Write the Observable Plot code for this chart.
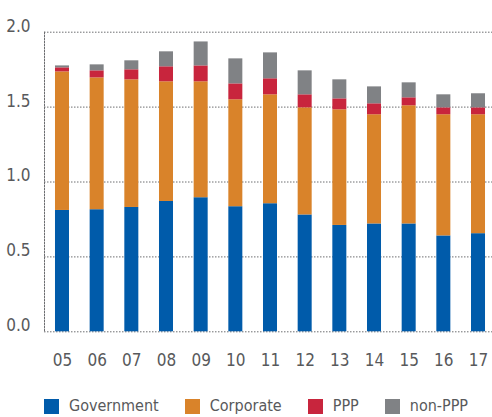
<!DOCTYPE html>
<html>
<head>
<meta charset="utf-8">
<script src="https://cdn.jsdelivr.net/npm/d3@7"></script>
<script src="https://cdn.jsdelivr.net/npm/@observablehq/plot@0.6"></script>
<style>
  body { margin: 0; background: #fff; }
  #wrap { width: 492px; font-family: "DejaVu Sans"; font-stretch: condensed; color: #58595b; }
  #wrap svg text { font-stretch: condensed; }
  #legend { display: flex; align-items: center; padding-left: 44px; padding-top: 12px; font-size: 16px; line-height: 18px; white-space: nowrap; }
  .item { display: flex; align-items: center; margin-right: 26px; }
  .sw { width: 15px; height: 15px; margin-right: 10px; flex: none; }
</style>
</head>
<body>
<div id="wrap"></div>
<script>
const years = ["05","06","07","08","09","10","11","12","13","14","15","16","17"];
const government = [0.81, 0.815, 0.83, 0.87, 0.895, 0.835, 0.855, 0.78, 0.71, 0.72, 0.72, 0.64, 0.655];
const corporate  = [0.925, 0.88, 0.852, 0.799, 0.774, 0.714, 0.727, 0.715, 0.772, 0.729, 0.789, 0.809, 0.794];
const ppp        = [0.027, 0.047, 0.067, 0.10, 0.106, 0.106, 0.107, 0.087, 0.073, 0.073, 0.053, 0.046, 0.046];
const nonPPP     = [0.013, 0.04, 0.06, 0.10, 0.16, 0.167, 0.173, 0.16, 0.127, 0.113, 0.10, 0.087, 0.094];
const series = ["Government", "Corporate", "PPP", "non-PPP"];
const colors = ["#005baa", "#d9832a", "#c8253d", "#808285"];
const yTicks = [0, 0.5, 1.0, 1.5, 2.0];

const seriesValues = [government, corporate, ppp, nonPPP];
const data = [];
series.forEach((s, i) => years.forEach((yr, j) => data.push({year: yr, series: s, value: seriesValues[i][j]})));

const chart = Plot.plot({
  width: 492,
  height: 385,
  marginLeft: 44,
  marginRight: 0,
  marginTop: 31.7,
  marginBottom: 53.7,
  style: {fontFamily: '"DejaVu Sans"', fontSize: "17px", color: "#58595b", background: "#fff"},
  x: {domain: years, range: [44, 496], paddingInner: 0.596, paddingOuter: 0.317, round: false, label: null},
  y: {domain: [0, 2], label: null},
  color: {domain: series, range: colors},
  marks: [
    Plot.ruleY(yTicks, {stroke: "#6d6e71", strokeDasharray: "1.5,1.5", strokeWidth: 1}),
    Plot.frame({anchor: "left", stroke: "#6d6e71", strokeDasharray: "1.5,1.5"}),
    Plot.barY(data, {x: "year", y: "value", fill: "series"}),
    Plot.axisY(yTicks, {tickSize: 0, tickPadding: 14, tickFormat: d3.format(".1f"), dy: -6, label: null}),
    Plot.axisX({tickSize: 0, tickPadding: 22, label: null})
  ]
});

const wrap = document.getElementById("wrap");
wrap.appendChild(chart);
const legend = document.createElement("div");
legend.id = "legend";
series.forEach((s, i) => {
  const it = document.createElement("div");
  it.className = "item";
  const sw = document.createElement("span");
  sw.className = "sw";
  sw.style.background = colors[i];
  const lab = document.createElement("span");
  lab.textContent = s;
  it.appendChild(sw); it.appendChild(lab);
  legend.appendChild(it);
});
wrap.appendChild(legend);
</script>
</body>
</html>
